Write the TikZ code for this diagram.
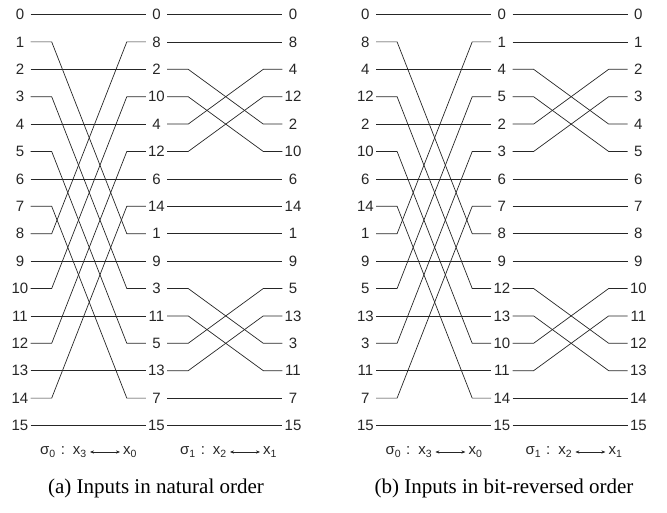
\documentclass[tikz,border=0pt]{standalone}
\usepackage{fontspec}
\setmainfont{Liberation Serif}
\setsansfont{Liberation Sans}
\usetikzlibrary{calc,arrows.meta}
\tikzset{
  lab/.style={font=\sffamily\fontsize{15}{15}\selectfont, text=black!85, inner sep=0pt,
              minimum width=21pt, minimum height=12pt, anchor=center},
  wire/.style={line width=0.7pt, draw=black!85},
  siglab/.style={font=\sffamily\fontsize{15}{15}\selectfont, text=black!85, inner sep=3pt},
  swaparrow/.style={line width=0.6pt, draw=black!85, {Stealth[length=4pt,width=3.2pt]}-{Stealth[length=4pt,width=3.2pt]}},
  captext/.style={font=\rmfamily\fontsize{21}{21}\selectfont, inner sep=0pt}
}
\newcommand{\drawpanel}[5]{%
  % #1 prefix, #2 x offset, #3 left labels, #4 middle labels, #5 right labels
  \foreach \t [count=\i from 0] in {#3} {\node[lab] (#1L-\i) at ({#2+20},{14.5+27.4*\i}) {\t};}
  \foreach \t [count=\i from 0] in {#4} {\node[lab] (#1M-\i) at ({#2+156.5},{14.5+27.4*\i}) {\t};}
  \foreach \t [count=\i from 0] in {#5} {\node[lab] (#1R-\i) at ({#2+293},{14.5+27.4*\i}) {\t};}
  % stage sigma_0 : swap x3 and x0
  \foreach \j [count=\i from 0] in {0,8,2,10,4,12,6,14,1,9,3,11,5,13,7,15} {
    \ifnum\i=\j
      \draw[wire] (#1L-\i.east) -- (#1M-\j.west);
    \else
      \draw[wire] (#1L-\i.east) -- ++(21,0) -- ($(#1M-\j.west)+(-19,0)$) -- (#1M-\j.west);
    \fi
  }
  % stage sigma_1 : swap x2 and x1
  \foreach \j [count=\i from 0] in {0,1,4,5,2,3,6,7,8,9,12,13,10,11,14,15} {
    \ifnum\i=\j
      \draw[wire] (#1M-\i.east) -- (#1R-\j.west);
    \else
      \draw[wire] (#1M-\i.east) -- ++(21,0) -- ($(#1R-\j.west)+(-19,0)$) -- (#1R-\j.west);
    \fi
  }
  \node[siglab, anchor=east] (#1Sa) at ({#2+90},452) {σ\textsubscript{0}\hspace{5pt}:\hspace{8pt}x\textsubscript{3}};
  \node[siglab, anchor=west] (#1Sb) at ({#2+120},452) {x\textsubscript{0}};
  \draw[swaparrow] (#1Sa.east) -- (#1Sb.west);
  \node[siglab, anchor=east] (#1Ta) at ({#2+230},452) {σ\textsubscript{1}\hspace{5pt}:\hspace{8pt}x\textsubscript{2}};
  \node[siglab, anchor=west] (#1Tb) at ({#2+260},452) {x\textsubscript{1}};
  \draw[swaparrow] (#1Ta.east) -- (#1Tb.west);
}
\begin{document}
\begin{tikzpicture}[x=1pt,y=-1pt]
  \useasboundingbox (0,0) rectangle (667,513);
  \drawpanel{a}{0}{0,1,2,3,4,5,6,7,8,9,10,11,12,13,14,15}{0,8,2,10,4,12,6,14,1,9,3,11,5,13,7,15}{0,8,4,12,2,10,6,14,1,9,5,13,3,11,7,15}
  \drawpanel{b}{345.4}{0,8,4,12,2,10,6,14,1,9,5,13,3,11,7,15}{0,1,4,5,2,3,6,7,8,9,12,13,10,11,14,15}{0,1,2,3,4,5,6,7,8,9,10,11,12,13,14,15}
  \node[captext] (acap) at (156,488) {(a) Inputs in natural order};
  \node[captext] (bcap) at (504,488) {(b) Inputs in bit-reversed order};
\end{tikzpicture}
\end{document}
